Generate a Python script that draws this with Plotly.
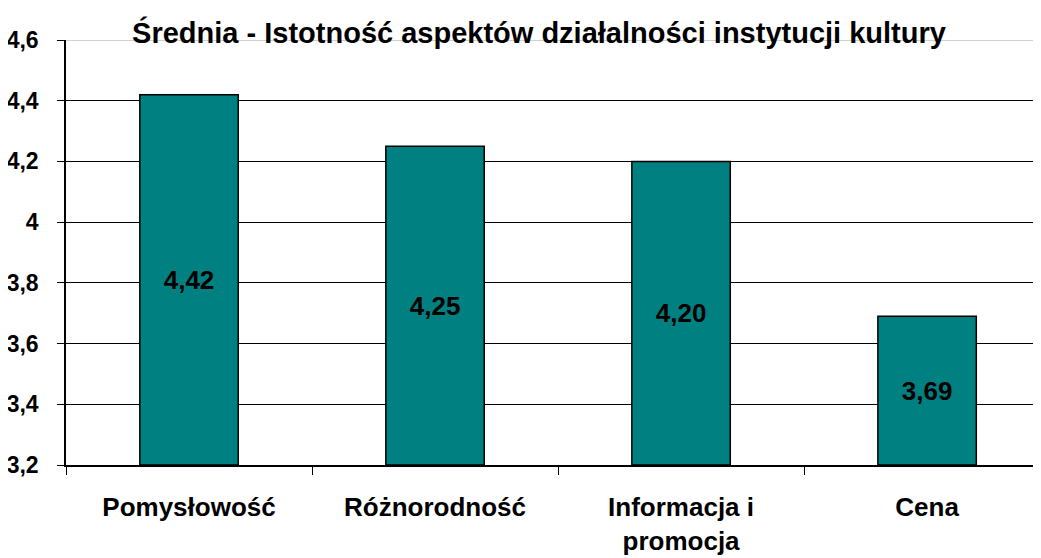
import plotly.graph_objects as go

categories = ["Pomysłowość", "Różnorodność", "Informacja i<br>promocja", "Cena"]
values = [4.42, 4.25, 4.20, 3.69]
title_text = "Średnia - Istotność aspektów działalności instytucji kultury"
y_ticks = [3.2, 3.4, 3.6, 3.8, 4.0, 4.2, 4.4, 4.6]
y_min, y_max = 3.2, 4.6

FONT = "Liberation Sans, Arial, sans-serif"

labels = [f"{v:.2f}".replace(".", ",") for v in values]

fig = go.Figure()
fig.add_trace(go.Bar(
    x=categories, y=[v - y_min for v in values], base=y_min,
    marker=dict(color="#008080", line=dict(color="black", width=1.5)),
    width=0.4,
    text=labels,
    textposition="inside",
    insidetextanchor="middle",
    textfont=dict(family=FONT, size=26, color="black", weight="bold"),
    textangle=0,
    hoverinfo="skip",
))

fig.update_layout(
    width=1041, height=558,
    paper_bgcolor="white", plot_bgcolor="white",
    margin=dict(l=58, r=8, t=32, b=101),
    separators=",.",
    showlegend=False,
    title=dict(text="<b>" + title_text + "</b>", x=531/1041, xanchor="center",
               y=1 - 25/558, yanchor="middle",
               font=dict(family=FONT, size=29, color="black")),
    font=dict(family=FONT, color="black"),
)
fig.update_yaxes(
    range=[y_min, y_max], tickvals=y_ticks, automargin=False,
    showgrid=True, gridcolor="black", gridwidth=1,
    showline=True, linecolor="black", linewidth=1.5,
    ticks="outside", ticklen=7, tickcolor="black",
    ticklabelstandoff=14,
    tickfont=dict(family=FONT, size=23, color="black", weight="bold"),
    zeroline=False,
)
fig.update_xaxes(
    automargin=False, range=[-0.5, 3.463],
    showline=True, linecolor="black", linewidth=1.5,
    ticks="outside", ticklen=8, tickcolor="black", tickson="boundaries",
    tickfont=dict(family=FONT, size=26, color="black", weight="bold"),
    ticklabelstandoff=18,
)
fig.add_shape(type="line", xref="paper", yref="y", x0=0, x1=1, y0=y_max, y1=y_max,
              line=dict(color="#c0c0c0", width=1.5), layer="above")

fig.write_html("out.html")
